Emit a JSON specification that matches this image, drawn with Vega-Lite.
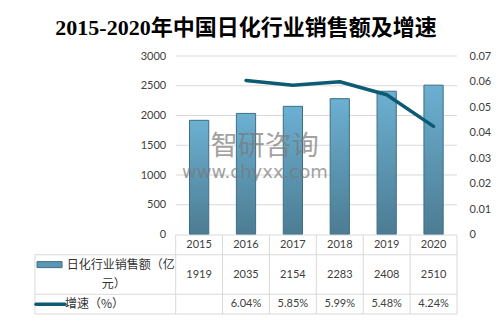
{
  "$schema": "https://vega.github.io/schema/vega-lite/v6.json",
  "autosize": {"type": "pad"},
  "padding": {"left": 28, "top": 17, "right": 5, "bottom": 5},
  "background": "white",
  "bounds": "flush",
  "title": {
    "text": "2015-2020年中国日化行业销售额及增速",
    "font": "Liberation Serif, Noto Sans CJK SC",
    "fontSize": 22,
    "fontWeight": "bold",
    "color": "#000000",
    "anchor": "middle",
    "frame": "group",
    "offset": 10
  },
  "datasets": {
    "d": [
      {"year": "2015", "sales": 1919, "growth": null},
      {"year": "2016", "sales": 2035, "growth": 0.0604},
      {"year": "2017", "sales": 2154, "growth": 0.0585},
      {"year": "2018", "sales": 2283, "growth": 0.0599},
      {"year": "2019", "sales": 2408, "growth": 0.0548},
      {"year": "2020", "sales": 2510, "growth": 0.0424}
    ]
  },
  "spacing": 0,
  "vconcat": [
    {
      "width": 422,
      "height": 178.5,
      "layer": [
        {
          "layer": [
            {
              "data": {"values": [{"v": 500}, {"v": 1000}, {"v": 1500}, {"v": 2000}, {"v": 2500}, {"v": 3000}]},
              "mark": {"type": "rule", "color": "#d9d9d9", "strokeWidth": 1},
              "encoding": {
                "y": {"field": "v", "type": "quantitative"},
                "x": {"datum": "2015", "type": "nominal", "bandPosition": 0},
                "x2": {"datum": "2020", "bandPosition": 1}
              }
            },
            {
              "data": {"name": "d"},
              "mark": {
                "type": "bar",
                "width": {"band": 0.41},
                "stroke": "#3e6e84",
                "strokeWidth": 1,
                "fill": {
                  "x1": 0, "y1": 0, "x2": 0, "y2": 1,
                  "gradient": "linear",
                  "stops": [
                    {"offset": 0, "color": "#6cb0d2"},
                    {"offset": 1, "color": "#4c7c92"}
                  ]
                }
              },
              "encoding": {
                "x": {"field": "year", "type": "nominal"},
                "y": {"field": "sales", "type": "quantitative"}
              }
            },
            {
              "data": {"values": [{"t": "智研咨询"}]},
              "mark": {"type": "text", "font": "Noto Sans CJK SC", "fontSize": 27, "color": "#7a7a7a", "opacity": 0.7, "align": "center", "baseline": "middle"},
              "encoding": {
                "x": {"datum": "2016", "type": "nominal", "bandPosition": 0.9},
                "y": {"datum": 1470, "type": "quantitative"},
                "text": {"field": "t"}
              }
            },
            {
              "data": {"values": [{"t": "www.chyxx.com"}]},
              "mark": {"type": "text", "font": "DejaVu Sans", "fontSize": 18, "color": "#7a7a7a", "opacity": 0.7, "align": "center", "baseline": "middle"},
              "encoding": {
                "x": {"datum": "2016", "type": "nominal", "bandPosition": 0.69},
                "y": {"datum": 1034, "type": "quantitative"},
                "text": {"field": "t"}
              }
            }
          ],
          "encoding": {
            "x": {
              "type": "nominal",
              "scale": {"type": "band", "domain": ["L1", "L2", "L3", "2015", "2016", "2017", "2018", "2019", "2020"], "paddingInner": 0, "paddingOuter": 0},
              "axis": null
            },
            "y": {
              "type": "quantitative",
              "scale": {"domain": [0, 3000]},
              "axis": {"orient": "left", "offset": -140.7, "values": [0, 500, 1000, 1500, 2000, 2500, 3000], "format": "d", "labelPadding": 10, "domain": false, "ticks": false, "grid": false, "title": null}
            }
          }
        },
        {
          "data": {"name": "d"},
          "transform": [{"filter": "datum.growth != null"}],
          "mark": {"type": "line", "color": "#0d5a73", "strokeWidth": 3.5, "strokeJoin": "round", "strokeCap": "round"},
          "encoding": {
            "x": {"field": "year", "type": "nominal", "scale": {"type": "band", "domain": ["L1", "L2", "L3", "2015", "2016", "2017", "2018", "2019", "2020"], "paddingInner": 0, "paddingOuter": 0}, "axis": null},
            "y": {
              "field": "growth",
              "type": "quantitative",
              "scale": {"domain": [0, 0.07]},
              "axis": {"orient": "right", "values": [0, 0.01, 0.02, 0.03, 0.04, 0.05, 0.06, 0.07], "format": ".2~f", "labelPadding": 12, "domain": false, "ticks": false, "grid": false, "title": null}
            }
          }
        }
      ],
      "resolve": {"scale": {"y": "independent"}}
    },
    {
      "width": 422,
      "height": 79,
      "encoding": {
        "x": {
          "type": "nominal",
          "scale": {"type": "band", "domain": ["L1", "L2", "L3", "2015", "2016", "2017", "2018", "2019", "2020"], "paddingInner": 0, "paddingOuter": 0},
          "axis": null
        },
        "y": {
          "type": "nominal",
          "scale": {"type": "band", "domain": ["year", "s1", "s2", "growth"], "paddingInner": 0, "paddingOuter": 0},
          "axis": null
        }
      },
      "layer": [
        {
          "data": {"values": [{}]},
          "mark": {"type": "rule", "color": "#d9d9d9", "strokeWidth": 1},
          "encoding": {
            "y": {"datum": "year", "bandPosition": 0},
            "x": {"datum": "2015", "bandPosition": 0},
            "x2": {"datum": "2020", "bandPosition": 1}
          }
        },
        {
          "data": {"values": [{}]},
          "mark": {"type": "rule", "color": "#d9d9d9", "strokeWidth": 1},
          "encoding": {
            "y": {"datum": "s1", "bandPosition": 0},
            "x": {"datum": "L1", "bandPosition": 0},
            "x2": {"datum": "2020", "bandPosition": 1}
          }
        },
        {
          "data": {"values": [{}]},
          "mark": {"type": "rule", "color": "#d9d9d9", "strokeWidth": 1},
          "encoding": {
            "y": {"datum": "growth", "bandPosition": 0},
            "x": {"datum": "L1", "bandPosition": 0},
            "x2": {"datum": "2020", "bandPosition": 1}
          }
        },
        {
          "data": {"values": [{}]},
          "mark": {"type": "rule", "color": "#d9d9d9", "strokeWidth": 1},
          "encoding": {
            "y": {"datum": "growth", "bandPosition": 1},
            "x": {"datum": "L1", "bandPosition": 0},
            "x2": {"datum": "2020", "bandPosition": 1}
          }
        },
        {
          "data": {"name": "d"},
          "mark": {"type": "rule", "color": "#d9d9d9", "strokeWidth": 1},
          "encoding": {
            "x": {"field": "year", "bandPosition": 0},
            "y": {"datum": "year", "bandPosition": 0},
            "y2": {"datum": "growth", "bandPosition": 1}
          }
        },
        {
          "data": {"values": [{}]},
          "mark": {"type": "rule", "color": "#d9d9d9", "strokeWidth": 1},
          "encoding": {
            "x": {"datum": "2020", "bandPosition": 1},
            "y": {"datum": "year", "bandPosition": 0},
            "y2": {"datum": "growth", "bandPosition": 1}
          }
        },
        {
          "data": {"values": [{}]},
          "mark": {"type": "rule", "color": "#d9d9d9", "strokeWidth": 1},
          "encoding": {
            "x": {"datum": "L1", "bandPosition": 0},
            "y": {"datum": "s1", "bandPosition": 0},
            "y2": {"datum": "growth", "bandPosition": 1}
          }
        },
        {
          "data": {"name": "d"},
          "mark": {"type": "text", "font": "Lato", "fontSize": 11, "color": "#404040", "baseline": "middle"},
          "encoding": {
            "x": {"field": "year"},
            "y": {"datum": "year"},
            "text": {"field": "year"}
          }
        },
        {
          "data": {"name": "d"},
          "mark": {"type": "text", "font": "Lato", "fontSize": 11, "color": "#404040", "baseline": "middle"},
          "encoding": {
            "x": {"field": "year"},
            "y": {"datum": "s1", "bandPosition": 1},
            "text": {"field": "sales", "type": "quantitative", "format": "d"}
          }
        },
        {
          "data": {"name": "d"},
          "transform": [{"filter": "datum.growth != null"}],
          "mark": {"type": "text", "font": "Lato", "fontSize": 11, "color": "#404040", "baseline": "middle"},
          "encoding": {
            "x": {"field": "year"},
            "y": {"datum": "growth"},
            "text": {"field": "growth", "type": "quantitative", "format": ".2%"}
          }
        },
        {
          "data": {"values": [{"t": "日化行业销售额（亿"}]},
          "mark": {"type": "text", "font": "Noto Sans CJK SC", "fontSize": 12, "color": "#333333", "align": "right", "baseline": "middle", "dx": -1},
          "encoding": {
            "x": {"datum": "L3", "bandPosition": 1},
            "y": {"datum": "s1"},
            "text": {"field": "t"}
          }
        },
        {
          "data": {"values": [{"t": "元）"}]},
          "mark": {"type": "text", "font": "Noto Sans CJK SC", "fontSize": 12, "color": "#333333", "align": "center", "baseline": "middle"},
          "encoding": {
            "x": {"datum": "L2", "bandPosition": 0.68},
            "y": {"datum": "s2"},
            "text": {"field": "t"}
          }
        },
        {
          "data": {"values": [{"t": "增速（%）"}]},
          "mark": {"type": "text", "font": "Noto Sans CJK SC", "fontSize": 12, "color": "#333333", "align": "left", "baseline": "middle"},
          "encoding": {
            "x": {"datum": "L1", "bandPosition": 0.64},
            "y": {"datum": "growth"},
            "text": {"field": "t"}
          }
        },
        {
          "data": {"values": [{"s": "bar"}]},
          "mark": {"type": "point", "shape": "M-1,-0.24H1V0.24H-1Z", "size": 625, "filled": true, "fill": "#5b97b4", "stroke": "#3e6e84", "strokeWidth": 1, "opacity": 1},
          "encoding": {
            "x": {"datum": "L1", "bandPosition": 0.31},
            "y": {"datum": "s1"}
          }
        },
        {
          "data": {"values": [{"s": "line"}]},
          "mark": {"type": "point", "shape": "M-1,0H1", "size": 841, "filled": false, "stroke": "#0d5a73", "strokeWidth": 3.5, "strokeCap": "round", "opacity": 1},
          "encoding": {
            "x": {"datum": "L1", "bandPosition": 0.33},
            "y": {"datum": "growth"}
          }
        }
      ]
    }
  ],
  "config": {
    "view": {"stroke": null},
    "axis": {"labelFont": "Lato", "labelFontSize": 11, "labelColor": "#404040"}
  }
}
